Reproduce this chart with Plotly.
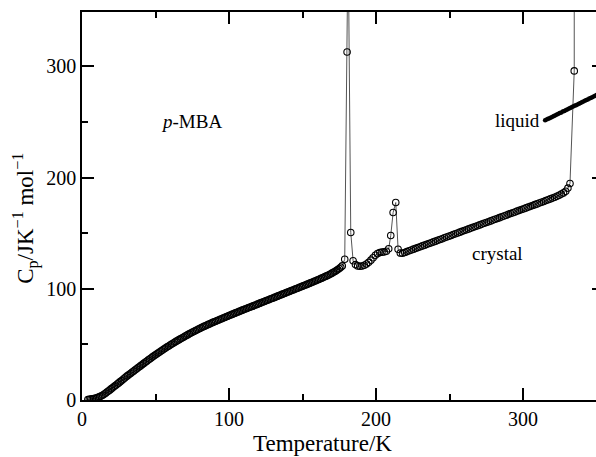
import plotly.graph_objects as go

# ---------------- data ----------------
# low-temperature crystal branch (open circles)
T_low = list(range(4, 178))
Cp_low = [0.5, 0.6, 0.8, 1.0, 1.3, 1.6, 2.0, 2.5, 3.0, 3.6, 4.3, 5.2, 6.1, 7.1, 8.1, 9.1,
          10.2, 11.2, 12.3, 13.3, 14.4, 15.4, 16.5, 17.6, 18.7, 19.8, 20.9, 21.9, 22.9, 23.9,
          24.9, 25.9, 26.9, 27.9, 28.9, 29.9, 30.9, 31.9, 32.9, 33.9, 34.9, 35.9, 36.9, 37.8,
          38.8, 39.7, 40.7, 41.6, 42.5, 43.4, 44.3, 45.2, 46.1, 46.9, 47.8, 48.6, 49.5, 50.3,
          51.1, 51.9, 52.7, 53.5, 54.3, 55.0, 55.8, 56.5, 57.3, 58.0, 58.8, 59.5, 60.2, 60.9,
          61.6, 62.3, 63.0, 63.6, 64.3, 64.9, 65.6, 66.2, 66.8, 67.4, 68.0, 68.6, 69.2, 69.8,
          70.4, 70.9, 71.5, 72.0, 72.6, 73.1, 73.7, 74.2, 74.8, 75.3, 75.9, 76.4, 77.0, 77.5,
          78.1, 78.6, 79.2, 79.7, 80.3, 80.8, 81.3, 81.8, 82.3, 82.9, 83.4, 83.9, 84.4, 85.0,
          85.5, 86.0, 86.5, 87.1, 87.6, 88.1, 88.6, 89.2, 89.7, 90.2, 90.8, 91.3, 91.8, 92.3,
          92.9, 93.4, 93.9, 94.4, 95.0, 95.5, 96.0, 96.6, 97.1, 97.6, 98.2, 98.7, 99.2, 99.8,
          100.3, 100.8, 101.4, 101.9, 102.4, 103.0, 103.5, 104.0, 104.6, 105.1, 105.7, 106.2,
          106.8, 107.3, 107.9, 108.4, 109.0, 109.6, 110.2, 110.8, 111.4, 112.0, 112.7, 113.4,
          114.1, 114.8, 115.6, 116.4, 117.3, 118.3, 119.4, 120.6]

# transition region (incl. off-scale peak tops)
T_trans = [178.7, 180.3, 181.0, 182.8, 184.4, 186.0, 187.5, 189.0, 190.5, 192.0, 193.5,
           195.0, 196.5, 198.0, 199.5, 201.0, 202.5, 204.0, 205.5, 207.0, 208.6, 210.0,
           211.6, 213.4, 215.0, 216.5]
Cp_trans = [126.6, 313.0, 420.0, 150.6, 125.2, 121.8, 120.6, 120.3, 120.5, 121.2, 122.3,
            123.8, 125.8, 128.0, 130.2, 131.8, 132.6, 133.0, 133.2, 133.8, 136.0, 148.0,
            168.6, 177.6, 135.6, 132.2]

# high-temperature crystal branch up to fusion
T_high = [218.0, 219.5, 221.0, 222.5, 224.0, 225.5, 227.0, 228.5, 230.0, 231.5, 233.0,
          234.5, 236.0, 237.5, 239.0, 240.5, 242.0, 243.5, 245.0, 246.5, 248.0, 249.5,
          251.0, 252.5, 254.0, 255.5, 257.0, 258.5, 260.0, 261.5, 263.0, 264.5, 266.0,
          267.5, 269.0, 270.5, 272.0, 273.5, 275.0, 276.5, 278.0, 279.5, 281.0, 282.5,
          284.0, 285.5, 287.0, 288.5, 290.0, 291.5, 293.0, 294.5, 296.0, 297.5, 299.0,
          300.5, 302.0, 303.5, 305.0, 306.5, 308.0, 309.5, 311.0, 312.5, 314.0, 315.5,
          317.0, 318.5, 320.0, 321.5, 323.0, 324.5, 326.0, 327.5, 329.0, 330.5, 331.9,
          334.8, 335.0]
Cp_high = [132.0, 132.7, 133.5, 134.2, 134.9, 135.7, 136.4, 137.1, 137.8, 138.6, 139.3,
           140.0, 140.8, 141.5, 142.2, 142.9, 143.7, 144.4, 145.1, 145.9, 146.6, 147.3,
           148.0, 148.8, 149.5, 150.2, 151.0, 151.7, 152.4, 153.1, 153.9, 154.6, 155.3,
           156.1, 156.8, 157.5, 158.2, 159.0, 159.7, 160.4, 161.1, 161.9, 162.6, 163.3,
           164.0, 164.8, 165.5, 166.2, 167.0, 167.7, 168.4, 169.1, 169.9, 170.6, 171.3,
           172.0, 172.8, 173.5, 174.2, 175.0, 175.7, 176.4, 177.2, 177.9, 178.6, 179.4,
           180.1, 180.9, 181.6, 182.4, 183.3, 184.2, 185.2, 186.3, 187.8, 190.6, 194.7,
           296.0, 2000.0]

# liquid series (small filled dots)
T_liquid = [315, 316, 317, 318, 319, 320, 321, 322, 323, 324, 325, 326, 327, 328, 329,
            330, 331, 332, 333, 334, 335, 336, 337, 338, 339, 340, 341, 342, 343, 344,
            345, 346, 347, 348, 349, 350]
Cp_liquid = [251.6, 252.2, 252.9, 253.5, 254.2, 254.8, 255.5, 256.1, 256.8, 257.4, 258.1,
             258.7, 259.4, 260.0, 260.7, 261.3, 262.0, 262.6, 263.3, 263.9, 264.6, 265.2,
             265.9, 266.5, 267.2, 267.8, 268.5, 269.1, 269.8, 270.4, 271.1, 271.7, 272.4,
             273.0, 273.7, 274.3]

x_ticks = [0, 100, 200, 300]
y_ticks = [0, 100, 200, 300]

T_all = T_low + T_trans + T_high
Cp_all = Cp_low + Cp_trans + Cp_high

FONT = "Liberation Serif"

fig = go.Figure()
fig.add_trace(go.Scatter(
    x=T_all, y=Cp_all, mode="lines+markers",
    line=dict(color="#555555", width=1),
    marker=dict(symbol="circle-open", size=6.5, color="black", line=dict(width=1.1, color="black")),
    showlegend=False, hoverinfo="skip"))
fig.add_trace(go.Scatter(
    x=T_liquid, y=Cp_liquid, mode="markers",
    marker=dict(symbol="circle", size=4.5, color="black"),
    yaxis="y2", showlegend=False, hoverinfo="skip"))

axis_common = dict(showgrid=False, zeroline=False, ticks="inside", ticklen=12, tickwidth=1.5,
                   tickcolor="black", linecolor="black", linewidth=1.5, showline=True,
                   tickfont=dict(family=FONT, size=20, color="black"))

fig.update_layout(
    width=596, height=457,
    margin=dict(l=82, r=0, t=12, b=57),
    paper_bgcolor="white", plot_bgcolor="white",
    font=dict(family=FONT, color="black"),
    xaxis=dict(range=[0, 349.6], tickvals=x_ticks, mirror="ticks",
               minor=dict(dtick=50, ticks="inside", ticklen=6, tickwidth=1.5, tickcolor="black"),
               **axis_common),
    yaxis=dict(range=[0, 349], tickvals=y_ticks,
               minor=dict(dtick=50, ticks="inside", ticklen=6, tickwidth=1.5, tickcolor="black"),
               **axis_common),
    yaxis2=dict(range=[0, 349], overlaying="y", side="right", tickvals=y_ticks,
                ticks="inside", ticklen=4, tickwidth=1.5, tickcolor="black",
                showline=False, showgrid=False, zeroline=False, showticklabels=False),
    annotations=[
        dict(text="Temperature/K", xref="x", x=163.7, yref="paper", y=0, yshift=-43,
             xanchor="center", yanchor="middle", showarrow=False,
             font=dict(family=FONT, size=23, color="black")),
        dict(text="C<sub>p</sub>/JK<sup>−1</sup> mol<sup>−1</sup>", xref="paper", x=0,
             xshift=-57, yref="y", y=163, textangle=-90, xanchor="center", yanchor="middle",
             showarrow=False, font=dict(family=FONT, size=23, color="black")),
        dict(text="<i>p</i>-MBA", xref="x", x=74.2, yref="y", y=250.7, showarrow=False,
             xanchor="center", yanchor="middle", font=dict(family=FONT, size=19, color="black")),
        dict(text="liquid", xref="x", x=296.5, yref="y", y=251.6, showarrow=False,
             xanchor="center", yanchor="middle", font=dict(family=FONT, size=19, color="black")),
        dict(text="crystal", xref="x", x=282.5, yref="y", y=131.7, showarrow=False,
             xanchor="center", yanchor="middle", font=dict(family=FONT, size=19, color="black")),
    ],
)

fig.write_html("out.html")
